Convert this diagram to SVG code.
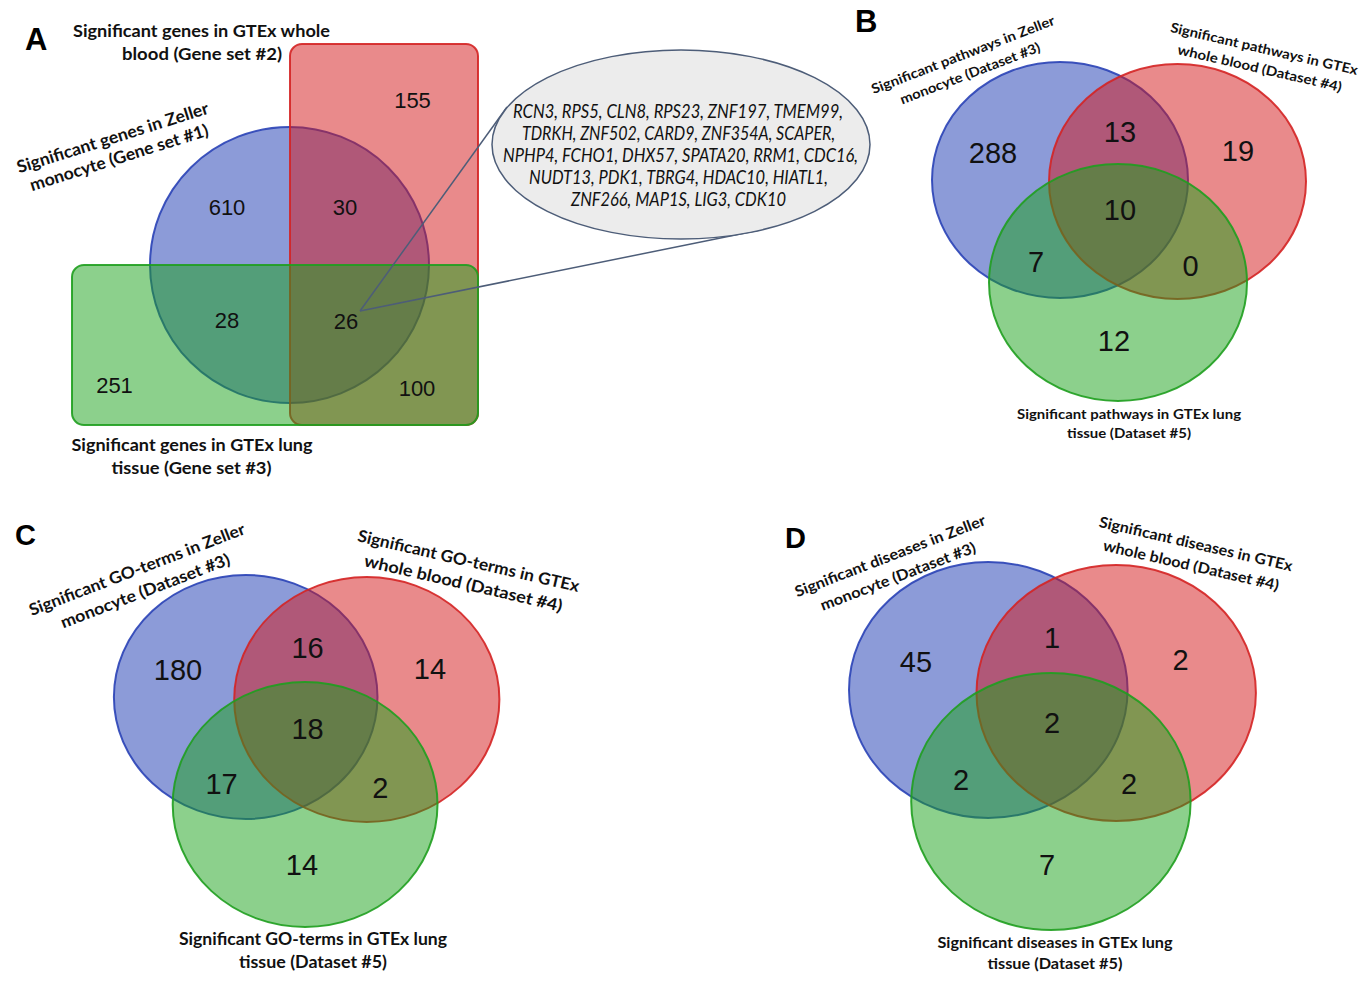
<svg xmlns="http://www.w3.org/2000/svg" width="1367" height="984" viewBox="0 0 1367 984">
<style>
.b{fill:#1937B1;fill-opacity:.5;stroke:#2a42b6;stroke-width:2;stroke-opacity:.9}
.r{fill:#D31517;fill-opacity:.5;stroke:#d42424;stroke-width:2;stroke-opacity:.9}
.g{fill:#19A119;fill-opacity:.5;stroke:#1f9e1f;stroke-width:2;stroke-opacity:.9}
.lab{font-family:Lato,"Open Sans","Liberation Sans",sans-serif;font-weight:700;fill:#111;text-anchor:middle}
.num{font-family:"Liberation Sans",Arial,sans-serif;fill:#111;text-anchor:middle}
.gene{font-family:Lato,"Open Sans","Liberation Sans",sans-serif;font-style:italic;font-size:19px;fill:#111;text-anchor:middle}
.let{font-family:"Liberation Sans",Arial,sans-serif;font-weight:700;fill:#000}
.conn{fill:none;stroke:#4d5d78;stroke-width:1.5}
</style>
<rect width="1367" height="984" fill="#fff"/>

<!-- Panel A -->
<g id="panelA">
<text class="let" x="25" y="50" font-size="31">A</text>
<g id="A-set1">
<ellipse class="b" cx="289.5" cy="265" rx="139.5" ry="138"/>
<g transform="translate(116,148) rotate(-17.5)">
<text class="lab" font-size="17" x="0" y="-5" textLength="200" lengthAdjust="spacingAndGlyphs">Significant genes in Zeller</text>
<text class="lab" font-size="17" x="0" y="16" textLength="186" lengthAdjust="spacingAndGlyphs">monocyte (Gene set #1)</text>
</g>
</g>
<g id="A-set2">
<rect class="r" x="290" y="44" width="188" height="381" rx="12"/>
<text class="lab" font-size="17" x="201.5" y="37" textLength="257" lengthAdjust="spacingAndGlyphs">Significant genes in GTEx whole</text>
<text class="lab" font-size="17" x="202" y="60" textLength="160" lengthAdjust="spacingAndGlyphs">blood (Gene set #2)</text>
</g>
<g id="A-set3">
<rect class="g" x="72" y="265" width="406" height="160" rx="12"/>
<text class="lab" font-size="17" x="192" y="451" textLength="241" lengthAdjust="spacingAndGlyphs">Significant genes in GTEx lung</text>
<text class="lab" font-size="17" x="191.5" y="474" textLength="160" lengthAdjust="spacingAndGlyphs">tissue (Gene set #3)</text>
</g>
<g id="A-counts" font-size="22">
<text class="num" x="412.5" y="108">155</text>
<text class="num" x="227" y="215">610</text>
<text class="num" x="345" y="215">30</text>
<text class="num" x="227" y="328">28</text>
<text class="num" x="346" y="328.5">26</text>
<text class="num" x="114.5" y="392.5">251</text>
<text class="num" x="417" y="395.5">100</text>
</g>
<g id="connectors">
<path class="conn" d="M360,311 L507,107"/>
<path class="conn" d="M360,311 L760,230"/>
</g>
<g id="A-genes">
<ellipse cx="681" cy="144.5" rx="189" ry="94.5" fill="#ececec" stroke="#4d5d78" stroke-width="1.5"/>
<text class="gene" x="678" y="118" textLength="330" lengthAdjust="spacingAndGlyphs">RCN3, RPS5, CLN8, RPS23, ZNF197, TMEM99,</text>
<text class="gene" x="678.5" y="140" textLength="313" lengthAdjust="spacingAndGlyphs">TDRKH, ZNF502, CARD9, ZNF354A, SCAPER,</text>
<text class="gene" x="680.5" y="162" textLength="355" lengthAdjust="spacingAndGlyphs">NPHP4, FCHO1, DHX57, SPATA20, RRM1, CDC16,</text>
<text class="gene" x="678.5" y="184" textLength="299" lengthAdjust="spacingAndGlyphs">NUDT13, PDK1, TBRG4, HDAC10, HIATL1,</text>
<text class="gene" x="678.5" y="206" textLength="215" lengthAdjust="spacingAndGlyphs">ZNF266, MAP1S, LIG3, CDK10</text>
</g>
</g>

<!-- Panel B -->
<g id="panelB">
<text class="let" x="855" y="32" font-size="31">B</text>
<g id="B-set3">
<ellipse class="b" cx="1060" cy="180" rx="128" ry="118"/>
<g transform="translate(966.5,64) rotate(-21)">
<text class="lab" font-size="13.5" x="0" y="-5.2" textLength="195" lengthAdjust="spacingAndGlyphs">Significant pathways in Zeller</text>
<text class="lab" font-size="13.5" x="0" y="14.8" textLength="149" lengthAdjust="spacingAndGlyphs">monocyte (Dataset #3)</text>
</g>
</g>
<g id="B-set4">
<ellipse class="r" cx="1177.5" cy="181.5" rx="128.5" ry="117.5"/>
<g transform="translate(1262,58.5) rotate(13)">
<text class="lab" font-size="13.5" x="0" y="-5.2" textLength="192" lengthAdjust="spacingAndGlyphs">Significant pathways in GTEx</text>
<text class="lab" font-size="13.5" x="0" y="14.8" textLength="168" lengthAdjust="spacingAndGlyphs">whole blood (Dataset #4)</text>
</g>
</g>
<g id="B-set5">
<ellipse class="g" cx="1118" cy="282.5" rx="129" ry="118.5"/>
<text class="lab" font-size="13.5" x="1129" y="419" textLength="224" lengthAdjust="spacingAndGlyphs">Significant pathways in GTEx lung</text>
<text class="lab" font-size="13.5" x="1129" y="438" textLength="124" lengthAdjust="spacingAndGlyphs">tissue (Dataset #5)</text>
</g>
<g id="B-counts" font-size="29">
<text class="num" x="993" y="163">288</text>
<text class="num" x="1120" y="142">13</text>
<text class="num" x="1238" y="161">19</text>
<text class="num" x="1120" y="220">10</text>
<text class="num" x="1036" y="272">7</text>
<text class="num" x="1190.5" y="276">0</text>
<text class="num" x="1114" y="351">12</text>
</g>
</g>

<!-- Panel C -->
<g id="panelC">
<text class="let" x="15" y="545" font-size="29">C</text>
<g id="C-set3">
<ellipse class="b" cx="245.7" cy="697" rx="131.8" ry="122"/>
<g transform="translate(141,580) rotate(-21)">
<text class="lab" font-size="16.5" x="0" y="-5.6" textLength="230" lengthAdjust="spacingAndGlyphs">Significant GO-terms in Zeller</text>
<text class="lab" font-size="16.5" x="0" y="17.4" textLength="180" lengthAdjust="spacingAndGlyphs">monocyte (Dataset #3)</text>
</g>
</g>
<g id="C-set4">
<ellipse class="r" cx="366.8" cy="699.5" rx="132.6" ry="122.5"/>
<g transform="translate(466,572) rotate(13)">
<text class="lab" font-size="16.5" x="0" y="-5.6" textLength="227" lengthAdjust="spacingAndGlyphs">Significant GO-terms in GTEx</text>
<text class="lab" font-size="16.5" x="0" y="17.4" textLength="203" lengthAdjust="spacingAndGlyphs">whole blood (Dataset #4)</text>
</g>
</g>
<g id="C-set5">
<ellipse class="g" cx="305.1" cy="804.5" rx="132.4" ry="122.5"/>
<text class="lab" font-size="16.5" x="313" y="945" textLength="268" lengthAdjust="spacingAndGlyphs">Significant GO-terms in GTEx lung</text>
<text class="lab" font-size="16.5" x="313" y="968" textLength="148" lengthAdjust="spacingAndGlyphs">tissue (Dataset #5)</text>
</g>
<g id="C-counts" font-size="29">
<text class="num" x="178" y="680">180</text>
<text class="num" x="307.6" y="657.5">16</text>
<text class="num" x="430" y="678.5">14</text>
<text class="num" x="307.6" y="738.5">18</text>
<text class="num" x="221.6" y="793.5">17</text>
<text class="num" x="380.2" y="797.5">2</text>
<text class="num" x="302" y="874.5">14</text>
</g>
</g>

<!-- Panel D -->
<g id="panelD">
<text class="let" x="785" y="548" font-size="29">D</text>
<g id="D-set3">
<ellipse class="b" cx="988.3" cy="690" rx="139.3" ry="128"/>
<g transform="translate(894,566) rotate(-21)">
<text class="lab" font-size="15" x="0" y="-5.6" textLength="203" lengthAdjust="spacingAndGlyphs">Significant diseases in Zeller</text>
<text class="lab" font-size="15" x="0" y="16.4" textLength="165" lengthAdjust="spacingAndGlyphs">monocyte (Dataset #3)</text>
</g>
</g>
<g id="D-set4">
<ellipse class="r" cx="1116.2" cy="693" rx="139.7" ry="128"/>
<g transform="translate(1193.5,554.5) rotate(13)">
<text class="lab" font-size="15" x="0" y="-5.6" textLength="198" lengthAdjust="spacingAndGlyphs">Significant diseases in GTEx</text>
<text class="lab" font-size="15" x="0" y="16.4" textLength="180" lengthAdjust="spacingAndGlyphs">whole blood (Dataset #4)</text>
</g>
</g>
<g id="D-set5">
<ellipse class="g" cx="1050.9" cy="801.5" rx="139.7" ry="128.5"/>
<text class="lab" font-size="15" x="1055" y="948" textLength="235" lengthAdjust="spacingAndGlyphs">Significant diseases in GTEx lung</text>
<text class="lab" font-size="15" x="1055" y="969" textLength="135" lengthAdjust="spacingAndGlyphs">tissue (Dataset #5)</text>
</g>
<g id="D-counts" font-size="29">
<text class="num" x="916" y="672">45</text>
<text class="num" x="1052" y="648">1</text>
<text class="num" x="1180.5" y="669.5">2</text>
<text class="num" x="1052" y="733">2</text>
<text class="num" x="961" y="789.5">2</text>
<text class="num" x="1129" y="794">2</text>
<text class="num" x="1047" y="875">7</text>
</g>
</g>
</svg>
